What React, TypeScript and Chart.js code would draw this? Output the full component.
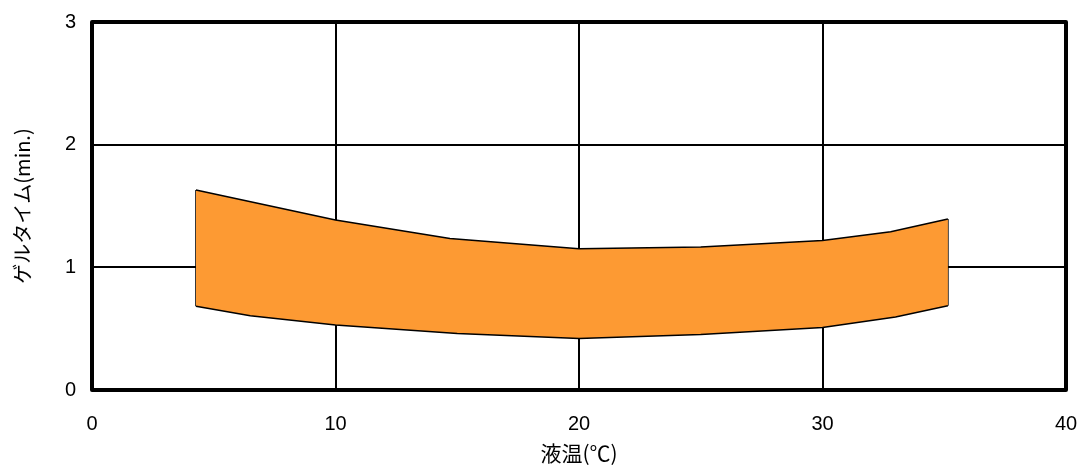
import React, { useEffect, useRef } from "react";
import { Chart, registerables } from "chart.js";

Chart.register(...registerables);

const upperX = [4.27, 10, 14.7, 20, 25, 30, 32.8, 35.15];
const upperY = [1.63, 1.386, 1.235, 1.152, 1.166, 1.219, 1.29, 1.394];
const lowerX = [4.27, 6.5, 10, 15, 20, 25, 30, 33, 35.15];
const lowerY = [0.683, 0.606, 0.53, 0.46, 0.42, 0.452, 0.51, 0.595, 0.686];
const xTicks = [0, 10, 20, 30, 40];
const yTicks = [0, 1, 2, 3];
const xTitle = "液温(℃)";
const yTitle = "ゲルタイム(min.)";

const FONT = "'Liberation Sans', Arial, 'Noto Sans CJK JP', sans-serif";
const TITLE_FONT = "'Noto Sans CJK JP', 'Liberation Sans', sans-serif";

const frame = {
  id: "frame",
  afterDatasetsDraw(chart: any) {
    const { ctx, chartArea: a } = chart;
    ctx.save();
    ctx.strokeStyle = "#000";
    ctx.lineWidth = 4;
    ctx.lineJoin = "round";
    ctx.strokeRect(a.left, a.top, a.right - a.left, a.bottom - a.top);
    ctx.restore();
  },
};

export default function App() {
  const ref = useRef<HTMLCanvasElement>(null);
  useEffect(() => {
    const upper = upperX.map((x, i) => ({ x, y: upperY[i] }));
    const lower = lowerX.map((x, i) => ({ x, y: lowerY[i] }));
    const n = lower.length - 1;
    const chart = new Chart(ref.current!, {
      type: "line",
      data: {
        datasets: [
          {
            data: upper,
            borderColor: "#000",
            borderWidth: 1.5,
            pointRadius: 0,
            tension: 0,
            fill: false,
          },
          {
            data: lower,
            borderColor: "#000",
            borderWidth: 1.5,
            backgroundColor: "#FD9A33",
            pointRadius: 0,
            tension: 0,
            fill: "-1",
          },
          {
            data: [upper[0], lower[0]],
            borderColor: "#000",
            borderWidth: 1.5,
            pointRadius: 0,
            fill: false,
          },
          {
            data: [upper[upper.length - 1], lower[n]],
            borderColor: "#000",
            borderWidth: 1.5,
            pointRadius: 0,
            fill: false,
          },
        ],
      },
      options: {
        animation: false,
        responsive: false,
        maintainAspectRatio: false,
        layout: { padding: { left: 0, top: 22, right: 13, bottom: 0 } },
        plugins: { legend: { display: false }, tooltip: { enabled: false } },
        scales: {
          x: {
            type: "linear",
            min: 0,
            max: 40,
            afterBuildTicks: (s: any) => {
              s.ticks = xTicks.map((v) => ({ value: v }));
            },
            afterFit: (s: any) => {
              s.height = 76;
              s.paddingLeft = 0;
              s.paddingRight = 0;
            },
            grid: { color: "#000", lineWidth: 2, drawTicks: false },
            border: { display: false },
            ticks: {
              color: "#000",
              padding: 22,
              font: { family: FONT, size: 20 },
            },
            title: {
              display: true,
              text: xTitle,
              color: "#000",
              font: { family: TITLE_FONT, size: 21 },
              padding: { top: 0, bottom: 0 },
            },
          },
          y: {
            type: "linear",
            min: 0,
            max: 3,
            afterBuildTicks: (s: any) => {
              s.ticks = yTicks.map((v) => ({ value: v }));
            },
            afterFit: (s: any) => {
              s.width = 92;
              s.paddingTop = 0;
              s.paddingBottom = 0;
            },
            grid: { color: "#000", lineWidth: 2, drawTicks: false },
            border: { display: false },
            ticks: {
              color: "#000",
              padding: 16,
              font: { family: FONT, size: 20 },
            },
            title: {
              display: true,
              text: yTitle,
              color: "#000",
              font: { family: TITLE_FONT, size: 20 },
              padding: { top: 10, bottom: 0 },
            },
          },
        },
      },
      plugins: [frame],
    });
    return () => chart.destroy();
  }, []);
  return (
    <div style={{ position: "absolute", left: 0, top: 0, width: 1079, height: 466, background: "#fff" }}>
      <canvas ref={ref} width={1079} height={466} />
    </div>
  );
}
